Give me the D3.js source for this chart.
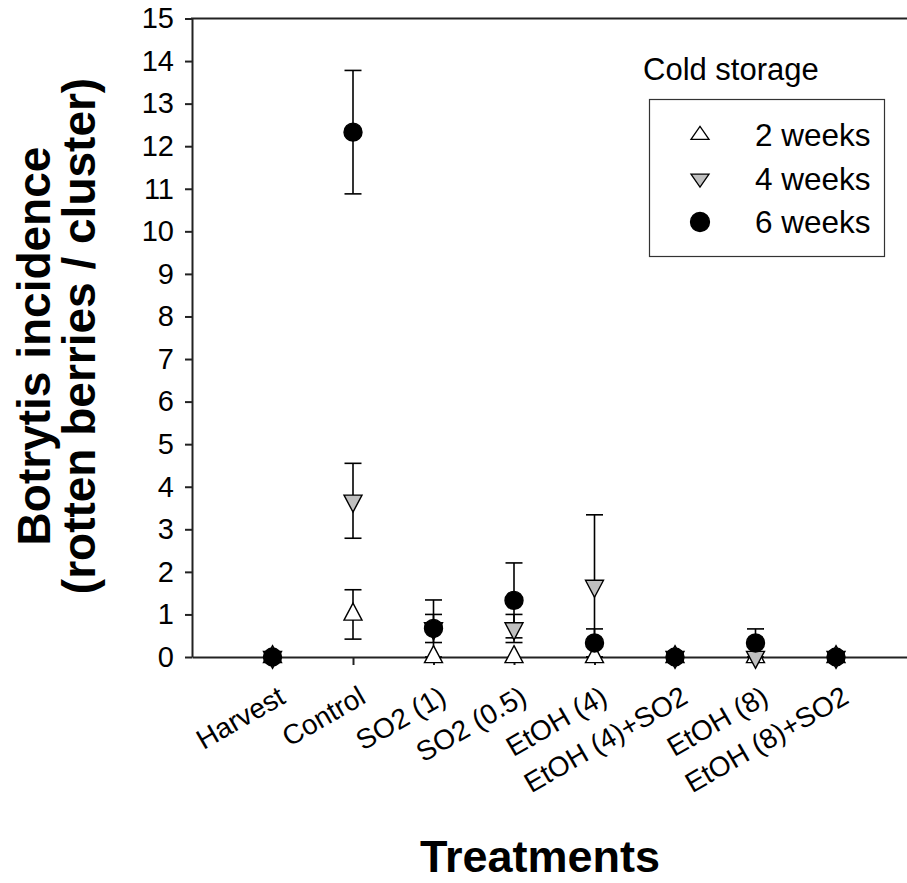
<!DOCTYPE html>
<html>
<head>
<meta charset="utf-8">
<script src="https://cdn.jsdelivr.net/npm/d3@7"></script>
<style>
  body { margin: 0; background: #fff; }
  svg { display: block; font-family: "Liberation Sans", Arial, sans-serif; }
  .axis path, .axis line { stroke: #222; stroke-width: 2; }
  .axis text { fill: #000; }
</style>
</head>
<body>
<div id="chart"></div>
<script>
// treatments on the x axis
const categories = ["Harvest", "Control", "SO2 (1)", "SO2 (0.5)", "EtOH (4)", "EtOH (4)+SO2", "EtOH (8)", "EtOH (8)+SO2"];

// mean rotten berries per cluster and standard error, by storage time
const weeks2 = [0, 1.0, 0, 0, 0, 0, 0, 0];
const weeks2Err = [0, 0.58, 0, 0, 0, 0, 0, 0];
const weeks4 = [0, 3.67, 0.67, 0.67, 1.67, 0, 0, 0];
const weeks4Err = [0, 0.88, 0.33, 0.33, 1.67, 0, 0, 0];
const weeks6 = [0, 12.33, 0.67, 1.33, 0.33, 0, 0.33, 0];
const weeks6Err = [0, 1.45, 0.67, 0.88, 0.33, 0, 0.33, 0];

const yTicks = d3.range(0, 16);
const seriesNames = ["2 weeks", "4 weeks", "6 weeks"];

const width = 907;
const height = 883;
const font = "'Liberation Sans', Arial, sans-serif";

const svg = d3.select("#chart")
  .append("svg")
  .attr("width", width)
  .attr("height", height);

const x = d3.scaleLinear([0, categories.length + 1], [192, 916.5]);
const y = d3.scaleLinear([0, 15], [657, 18.5]);

const series = [
  { name: seriesNames[0], values: weeks2, errs: weeks2Err, shape: "up", fill: "#fff" },
  { name: seriesNames[1], values: weeks4, errs: weeks4Err, shape: "down", fill: "#c0c0c0" },
  { name: seriesNames[2], values: weeks6, errs: weeks6Err, shape: "circle", fill: "#000" },
];

function symbolPath(shape, w, h) {
  if (shape === "circle") return d3.symbol(d3.symbolCircle, Math.PI * (w / 2) * (w / 2))();
  // triangle centred on its centroid
  const top = -h * 2 / 3, bottom = h / 3;
  if (shape === "up") return `M0,${top}L${w / 2},${bottom}L${-w / 2},${bottom}Z`;
  return `M0,${-top}L${w / 2},${-bottom}L${-w / 2},${-bottom}Z`;
}

// axes
const yAxis = svg.append("g")
  .attr("class", "axis")
  .attr("transform", `translate(${x(0)},0)`)
  .call(d3.axisLeft(y).tickValues(yTicks).tickSize(7).tickSizeOuter(0).tickPadding(11));
yAxis.attr("font-family", font).attr("font-size", 29);

const xAxis = svg.append("g")
  .attr("class", "axis")
  .attr("transform", `translate(0,${y(0)})`)
  .call(d3.axisBottom(x)
    .tickValues(d3.range(1, categories.length + 1))
    .tickFormat((d) => categories[d - 1])
    .tickSize(8)
    .tickSizeOuter(0));
xAxis.attr("font-family", font).attr("font-size", 28);
xAxis.selectAll("text")
  .attr("text-anchor", "end")
  .attr("dy", null)
  .attr("y", null)
  .attr("transform", "translate(14,45) rotate(-30)");

// top frame line
svg.append("line")
  .attr("x1", x(0) - 1)
  .attr("x2", x.range()[1])
  .attr("y1", y(15))
  .attr("y2", y(15))
  .attr("stroke", "#222")
  .attr("stroke-width", 2);

// error bars
const capW = 17;
series.forEach((s) => {
  const g = svg.append("g").attr("class", "errors");
  const rows = s.values.map((v, i) => ({ i, v, e: s.errs[i] })).filter((d) => d.e > 0);
  g.selectAll("line.stem").data(rows).join("line")
    .attr("class", "stem")
    .attr("x1", (d) => x(d.i + 1)).attr("x2", (d) => x(d.i + 1))
    .attr("y1", (d) => y(d.v - d.e)).attr("y2", (d) => y(d.v + d.e));
  [-1, 1].forEach((sign) => {
    g.selectAll(`line.cap${sign}`).data(rows).join("line")
      .attr("class", `cap${sign}`)
      .attr("x1", (d) => x(d.i + 1) - capW / 2).attr("x2", (d) => x(d.i + 1) + capW / 2)
      .attr("y1", (d) => y(d.v + sign * d.e)).attr("y2", (d) => y(d.v + sign * d.e));
  });
  g.selectAll("line").attr("stroke", "#000").attr("stroke-width", 1.6);
});

// markers
series.forEach((s) => {
  svg.append("g").selectAll("path").data(s.values).join("path")
    .attr("transform", (d, i) => `translate(${x(i + 1)},${y(d)})`)
    .attr("d", symbolPath(s.shape, 18, 17))
    .attr("fill", s.fill)
    .attr("stroke", "#000")
    .attr("stroke-width", 1.4);
});

// legend
svg.append("text")
  .attr("x", 643).attr("y", 80)
  .attr("font-size", 31)
  .text("Cold storage");

svg.append("rect")
  .attr("x", 649.5).attr("y", 99.5)
  .attr("width", 235).attr("height", 157)
  .attr("fill", "#fff")
  .attr("stroke", "#333")
  .attr("stroke-width", 1.2);

const legendRow = svg.append("g").selectAll("g").data(series).join("g")
  .attr("transform", (d, i) => `translate(700,${135 + i * 43.5})`);
legendRow.append("path")
  .attr("d", (d) => d.shape === "circle" ? symbolPath("circle", 19) : symbolPath(d.shape, 18, 13))
  .attr("fill", (d) => d.fill)
  .attr("stroke", "#000")
  .attr("stroke-width", 1.3);
legendRow.append("text")
  .attr("x", 55).attr("y", 11)
  .attr("font-size", 31.5)
  .text((d) => d.name);

// axis titles
const yTitle = svg.append("text")
  .attr("transform", "rotate(-90)")
  .attr("text-anchor", "middle")
  .attr("font-weight", "bold")
  .attr("font-size", 46);
yTitle.append("tspan").attr("x", -346).attr("y", 50).text("Botrytis incidence");
yTitle.append("tspan").attr("x", -336).attr("y", 95).text("(rotten berries / cluster)");

svg.append("text")
  .attr("x", 540).attr("y", 872)
  .attr("text-anchor", "middle")
  .attr("font-weight", "bold")
  .attr("font-size", 45)
  .text("Treatments");
</script>
</body>
</html>
